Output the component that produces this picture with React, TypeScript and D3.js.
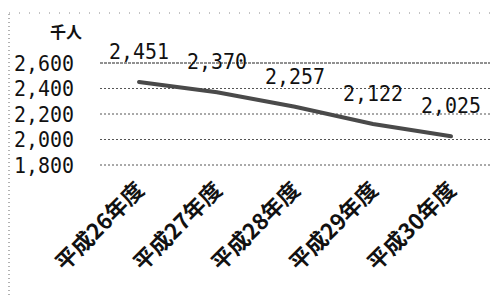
import * as d3 from 'd3';

const categories = ['平成26年度', '平成27年度', '平成28年度', '平成29年度', '平成30年度'];
const values = [2451, 2370, 2257, 2122, 2025];
const yTicks = [1800, 2000, 2200, 2400, 2600];
const unitLabel = '千人';

const W = 500;
const H = 297;
const plot = { left: 100, right: 490, top: 63, bottom: 165 };

export default function App() {
  const x = d3.scaleBand<string>()
    .domain(categories)
    .range([plot.left, plot.right]);
  const y = d3.scaleLinear()
    .domain([1800, 2600])
    .range([plot.bottom, plot.top]);
  const cx = (c: string) => (x(c) ?? 0) + x.bandwidth() / 2;

  const line = d3.line<number>()
    .x((_, i) => cx(categories[i]))
    .y(d => y(d));

  const fmt = d3.format(',');
  const numFont = '"DejaVu Sans Mono", "Liberation Mono", monospace';
  const cjkFont = '"Noto Sans CJK JP", "Noto Sans", sans-serif';

  return (
    <div style={{ position: 'absolute', left: 0, top: 0, width: W, height: H, background: '#fff' }}>
      <svg width={W} height={H} style={{ display: 'block' }}>
        <rect width={W} height={H} fill="#fff" />
        {/* scanned chart frame, faint dotted */}
        <line x1={9} x2={9} y1={14} y2={H} stroke="#666" strokeWidth={1} strokeDasharray="1,3" />
        <line x1={9} x2={W - 5} y1={13} y2={13} stroke="#888" strokeWidth={1} strokeDasharray="1,9" />

        {yTicks.map(t => (
          <g key={t}>
            <line x1={plot.left} x2={plot.right} y1={y(t)} y2={y(t)}
              stroke={t === 2600 ? '#222' : '#555'} strokeWidth={1}
              strokeDasharray={t === 2600 ? '3,1' : '2,2'} />
            <text x={74} y={y(t)} dy="0.36em" textAnchor="end" fontFamily={numFont}
              fontSize={22} textLength={60} lengthAdjust="spacingAndGlyphs" fill="#111">
              {fmt(t)}
            </text>
          </g>
        ))}

        <text x={66} y={38} textAnchor="middle" fontFamily={cjkFont} fontSize={16} fontWeight={700} fill="#111">
          {unitLabel}
        </text>

        <path d={line(values) ?? ''} fill="none" stroke="#4a4a4a" strokeWidth={4} strokeLinecap="round" />

        {values.map((v, i) => (
          <text key={i} x={cx(categories[i])} y={y(v) - 23} textAnchor="middle" fontFamily={numFont}
            fontSize={22} textLength={60} lengthAdjust="spacingAndGlyphs" fill="#111">
            {fmt(v)}
          </text>
        ))}

        {categories.map(c => (
          <text key={c} transform={`translate(${cx(c) + 1},${plot.bottom + 21}) rotate(-45)`}
            textAnchor="end" dy="0.35em" fontFamily={cjkFont} fontSize={22} fontWeight={700} fill="#111">
            {c}
          </text>
        ))}
      </svg>
    </div>
  );
}
